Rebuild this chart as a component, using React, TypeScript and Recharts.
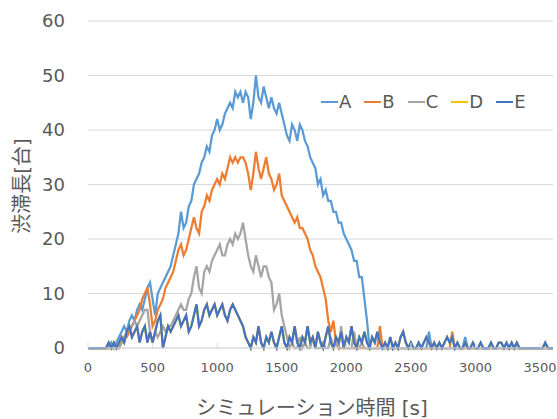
import { LineChart, Line, XAxis, YAxis, CartesianGrid, Legend } from 'recharts'

// queue length sampled every 20 s, 0 .. 3600 s (one row = 200 s)
const STEP = 20

const A = [
  0, 0, 0, 0, 0, 0, 0, 0, 0, 1,
  0, 1, 2, 3, 4, 3, 5, 6, 5, 7,
  8, 7, 9, 11, 12, 9, 6, 10, 11, 12,
  13, 14, 15, 17, 19, 21, 25, 22, 23, 26,
  27, 30, 31, 32, 34, 35, 37, 36, 39, 40,
  42, 40, 41, 43, 44, 45, 44, 47, 46, 47,
  45, 47, 46, 42, 45, 50, 46, 45, 48, 46,
  44, 46, 44, 43, 45, 43, 41, 39, 38, 41,
  40, 38, 41, 40, 38, 37, 35, 34, 33, 30,
  31, 28, 29, 27, 27, 25, 25, 23, 23, 21,
  20, 19, 18, 16, 16, 13, 13, 9, 5, 0,
  0, 0, 0, 0, 0, 0, 0, 0, 0, 0,
  0, 0, 0, 0, 0, 0, 0, 0, 0, 0,
  0, 0, 3, 0, 0, 0, 0, 0, 0, 0,
  0, 0, 0, 0, 0, 0, 2, 0, 0, 0,
  0, 0, 0, 0, 0, 0, 0, 0, 0, 0,
  0, 0, 0, 0, 0, 0, 0, 0, 0, 0,
  0, 0, 0, 0, 0, 0, 0, 0, 0, 0,
  0,
]

const B = [
  0, 0, 0, 0, 0, 0, 0, 0, 0, 0,
  0, 0, 0, 1, 2, 2, 3, 4, 5, 6,
  7, 9, 10, 11, 8, 4, 5, 7, 8, 9,
  11, 12, 13, 14, 16, 18, 19, 17, 18, 20,
  22, 24, 22, 21, 25, 26, 28, 27, 29, 30,
  31, 30, 32, 31, 33, 35, 34, 35, 34, 35,
  35, 34, 32, 29, 32, 36, 33, 31, 33, 35,
  32, 31, 29, 30, 32, 28, 27, 26, 25, 24,
  23, 24, 22, 22, 21, 20, 18, 17, 15, 14,
  13, 11, 9, 5, 3, 5, 1, 0, 0, 0,
  0, 0, 0, 0, 0, 0, 0, 0, 0, 0,
  0, 0, 0, 4, 0, 0, 0, 0, 0, 0,
  0, 0, 0, 0, 0, 0, 0, 0, 0, 0,
  0, 0, 0, 0, 0, 0, 0, 0, 0, 0,
  0, 3, 0, 0, 0, 0, 0, 0, 0, 0,
  0, 0, 0, 0, 0, 0, 0, 0, 0, 0,
  0, 0, 0, 0, 0, 0, 0, 0, 0, 0,
  0, 0, 0, 0, 0, 0, 0, 0, 0, 0,
  0,
]

const C = [
  0, 0, 0, 0, 0, 0, 0, 0, 0, 0,
  0, 0, 0, 1, 2, 3, 4, 4, 5, 4,
  5, 6, 7, 7, 3, 1, 3, 2, 3, 4,
  3, 4, 4, 5, 6, 7, 8, 7, 7, 9,
  10, 13, 15, 11, 10, 14, 15, 14, 16, 17,
  18, 19, 17, 17, 19, 20, 19, 21, 20, 21,
  23, 20, 17, 15, 14, 17, 15, 13, 15, 15,
  13, 12, 7, 8, 10, 6, 4, 2, 0, 1,
  0, 0, 2, 0, 1, 0, 0, 2, 0, 0,
  0, 1, 0, 0, 2, 0, 1, 0, 4, 0,
  0, 0, 0, 3, 0, 0, 1, 0, 0, 0,
  0, 0, 0, 0, 0, 0, 0, 0, 0, 0,
  0, 0, 0, 0, 0, 0, 0, 0, 0, 0,
  0, 0, 0, 0, 0, 0, 0, 0, 0, 0,
  0, 0, 0, 0, 0, 0, 0, 0, 0, 0,
  0, 0, 0, 0, 0, 0, 0, 0, 0, 0,
  0, 0, 0, 0, 0, 0, 0, 0, 0, 0,
  0, 0, 0, 0, 0, 0, 0, 0, 0, 0,
  0,
]

// D runs underneath E the whole time (it never shows in the picture)
const D = [
  0, 0, 0, 0, 0, 0, 0, 0, 1, 0,
  1, 0, 1, 2, 1, 3, 4, 2, 3, 4,
  1, 3, 4, 1, 3, 1, 3, 5, 6, 0,
  2, 4, 3, 4, 5, 6, 4, 5, 6, 3,
  4, 6, 8, 4, 5, 7, 8, 6, 7, 8,
  6, 7, 8, 6, 5, 7, 8, 7, 6, 5,
  4, 2, 1, 0, 2, 1, 4, 1, 0, 2,
  1, 3, 1, 0, 2, 4, 1, 0, 2, 1,
  4, 1, 0, 2, 1, 4, 1, 2, 0, 3,
  1, 0, 2, 4, 1, 0, 2, 1, 3, 0,
  2, 1, 4, 1, 0, 2, 1, 3, 1, 0,
  2, 1, 3, 1, 0, 1, 0, 2, 0, 1,
  0, 2, 3, 1, 0, 1, 0, 0, 1, 0,
  1, 2, 1, 0, 1, 0, 1, 0, 1, 2,
  1, 2, 0, 1, 0, 0, 1, 0, 0, 1,
  0, 0, 1, 0, 0, 0, 1, 0, 0, 1,
  1, 0, 1, 0, 1, 0, 1, 0, 0, 0,
  0, 0, 0, 0, 0, 0, 0, 1, 0, 0,
  0,
]

const E = [
  0, 0, 0, 0, 0, 0, 0, 0, 1, 0,
  1, 0, 1, 2, 1, 3, 4, 2, 3, 4,
  1, 3, 4, 1, 3, 1, 3, 5, 6, 0,
  2, 4, 3, 4, 5, 6, 4, 5, 6, 3,
  4, 6, 8, 4, 5, 7, 8, 6, 7, 8,
  6, 7, 8, 6, 5, 7, 8, 7, 6, 5,
  4, 2, 1, 0, 2, 1, 4, 1, 0, 2,
  1, 3, 1, 0, 2, 4, 1, 0, 2, 1,
  4, 1, 0, 2, 1, 4, 1, 2, 0, 3,
  1, 0, 2, 4, 1, 0, 2, 1, 3, 0,
  2, 1, 4, 1, 0, 2, 1, 3, 1, 0,
  2, 1, 3, 1, 0, 1, 0, 2, 0, 1,
  0, 2, 3, 1, 0, 1, 0, 0, 1, 0,
  1, 2, 1, 0, 1, 0, 1, 0, 1, 2,
  1, 2, 0, 1, 0, 0, 1, 0, 0, 1,
  0, 0, 1, 0, 0, 0, 1, 0, 0, 1,
  1, 0, 1, 0, 1, 0, 1, 0, 0, 0,
  0, 0, 0, 0, 0, 0, 0, 1, 0, 0,
  0,
]

const SERIES = [
  { key: 'A', color: '#5B9BD5' },
  { key: 'B', color: '#ED7D31' },
  { key: 'C', color: '#A5A5A5' },
  { key: 'D', color: '#FFC000' },
  { key: 'E', color: '#4472C4' },
]

const X_TICKS = [0, 500, 1000, 1500, 2000, 2500, 3000, 3500]
const Y_TICKS = [0, 10, 20, 30, 40, 50, 60]

const data = A.map((a, i) => ({ t: i * STEP, A: a, B: B[i], C: C[i], D: D[i], E: E[i] }))

const TEXT = '#595959'
const FONT = '"DejaVu Sans", "Noto Sans CJK JP", sans-serif'

function LegendBox() {
  return (
    <div style={{ display: 'flex', fontSize: 18, color: TEXT, fontFamily: FONT }}>
      {SERIES.map((s) => (
        <div key={s.key} style={{ display: 'flex', alignItems: 'center', marginRight: 13 }}>
          <span style={{ display: 'inline-block', width: 17, height: 2, background: s.color, marginRight: 1 }} />
          <span>{s.key}</span>
        </div>
      ))}
    </div>
  )
}

function YTitle() {
  return (
    <text x={22} y={186} transform="rotate(-90 22 186)" textAnchor="middle" dominantBaseline="central" fill={TEXT} fontSize={20}>
      渋滞長[台]
    </text>
  )
}

function XTitle() {
  return (
    <text x={312} y={408} textAnchor="middle" dominantBaseline="central" fill={TEXT} fontSize={20}>
      シミュレーション時間 [s]
    </text>
  )
}

export default function App() {
  return (
    <div style={{ width: 557, height: 419, fontFamily: FONT, background: '#fff' }}>
      <style>{'body{margin:0}'}</style>
      <LineChart width={557} height={419} data={data} margin={{ top: 21, right: 4, bottom: 0, left: 0 }}>
        <CartesianGrid horizontal vertical={false} stroke="#D9D9D9" />
        <XAxis
          type="number"
          dataKey="t"
          domain={[0, 3600]}
          ticks={X_TICKS}
          height={71}
          stroke="#D9D9D9"
          tickSize={-5}
          tickMargin={20}
          tick={{ fill: TEXT, fontSize: 13 }}
          label={<XTitle />}
        />
        <YAxis
          domain={[0, 60]}
          ticks={Y_TICKS}
          width={88}
          axisLine={false}
          tickLine={false}
          tickSize={0}
          tickMargin={23}
          tick={{ fill: TEXT, fontSize: 18 }}
          label={<YTitle />}
        />
        <Legend verticalAlign="middle" wrapperStyle={{ top: 91, left: 321, width: 240 }} content={<LegendBox />} />
        {SERIES.map((s) => (
          <Line
            key={s.key}
            type="linear"
            dataKey={s.key}
            stroke={s.color}
            strokeWidth={2.25}
            dot={false}
            activeDot={false}
            isAnimationActive={false}
          />
        ))}
      </LineChart>
    </div>
  )
}
